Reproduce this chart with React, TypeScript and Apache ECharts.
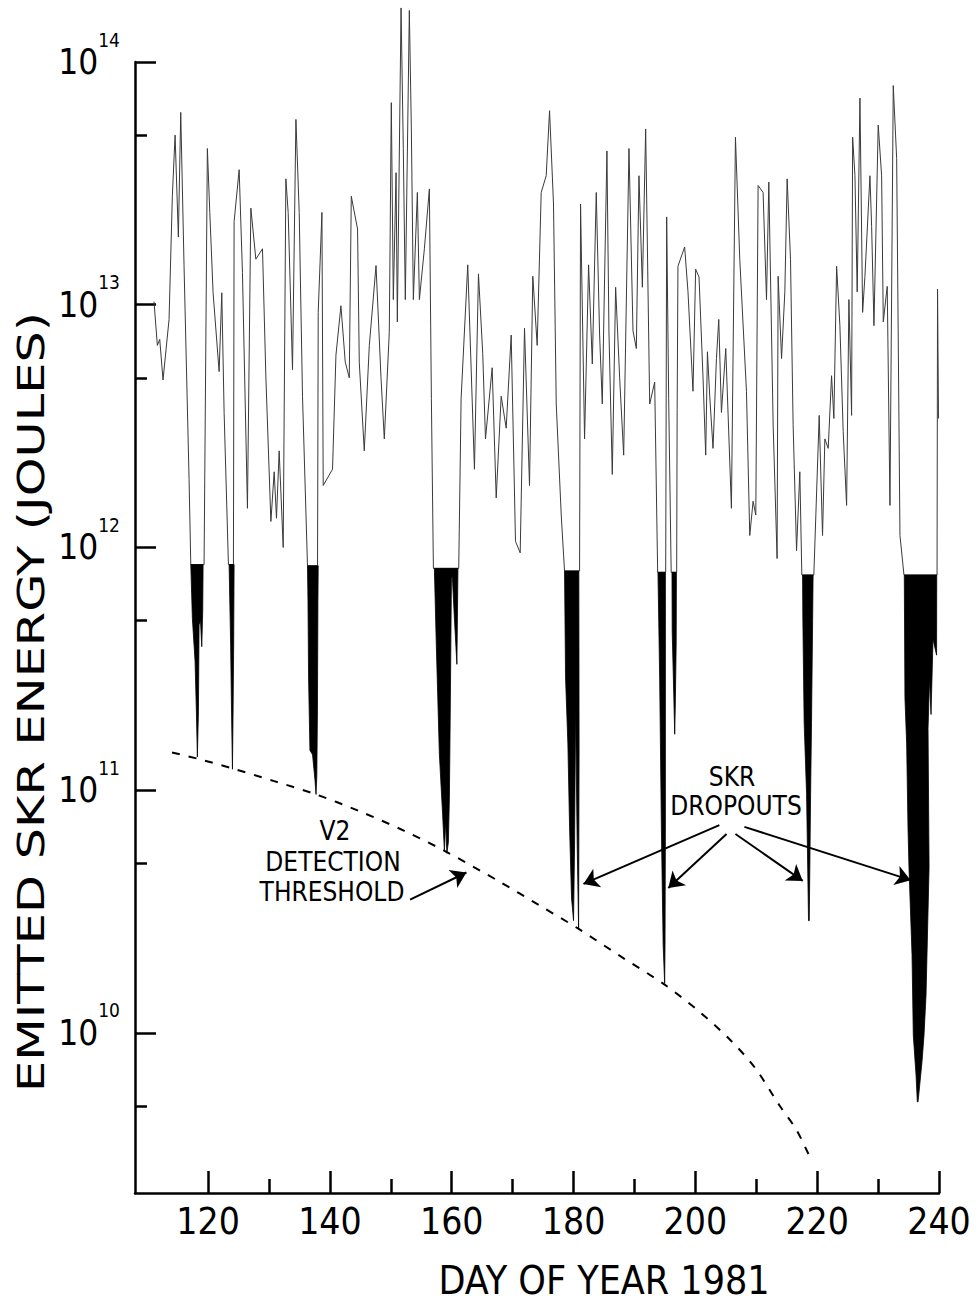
import React, { useEffect, useRef } from "react";
import * as echarts from "echarts";

// ---------- axes ----------
const X_MIN = 108;
const X_MAX = 240;
const Y_MIN_J = 2.19e9;
const Y_MAX_J = 1e14;
const X_MAJOR_TICKS = [120, 140, 160, 180, 200, 220, 240];
const X_MINOR_TICKS = [130, 150, 170, 190, 210, 230];
const Y_MAJOR_TICKS_J = [1e10, 1e11, 1e12, 1e13, 1e14];
const Y_MINOR_TICKS_J = [5e9, 5e10, 5e11, 5e12, 5e13];

// ---------- emitted SKR energy per rotation: [day of year, joules] ----------
const SKR_TRACE: [number, number][] = [
  [111.12, 1.03e13], [111.67, 6.8e12], [112.06, 7.2e12], [112.6, 4.9e12], [113.59, 8.7e12],
  [114.13, 2.8e13], [114.58, 5.0e13], [115.12, 1.9e13], [115.51, 6.2e13], [116.05, 1.45e13],
  [116.88, 1.9e12], [117.16, 8.5e11], [119.18, 8.5e11], [119.34, 8.5e11], [119.88, 4.4e13],
  [120.28, 2.4e13], [120.82, 1.12e13], [121.81, 5.3e12], [122.25, 1.12e13], [122.63, 3.6e12],
  [123.34, 8.5e11], [124.16, 8.5e11], [124.27, 2.2e13], [125.1, 3.6e13], [125.64, 1.36e13],
  [126.46, 1.45e12], [127.02, 2.5e13], [127.84, 1.54e13], [128.93, 1.7e13], [129.49, 5.0e12],
  [130.31, 1.28e12], [130.85, 2.05e12], [131.23, 1.32e12], [131.67, 2.5e12], [132.33, 1.0e12],
  [132.77, 3.3e13], [133.15, 2.4e13], [133.86, 5.4e12], [134.42, 5.8e13], [134.96, 2.4e13],
  [135.5, 4.2e12], [136.32, 8.4e11], [137.97, 8.4e11], [138.08, 9.3e12], [138.69, 2.4e13],
  [138.9, 1.8e12], [140.43, 2.1e12], [140.99, 6.2e12], [141.81, 9.9e12], [142.52, 5.8e12],
  [143.18, 5.0e12], [143.51, 2.8e13], [144.54, 2.05e13], [144.82, 5.8e12], [145.64, 2.5e12],
  [146.47, 6.8e12], [147.57, 1.45e13], [148.39, 5.0e12], [148.93, 2.8e12], [149.75, 7.7e12],
  [150.08, 6.8e13], [150.41, 1.05e13], [150.86, 3.5e13], [151.07, 8.5e12], [151.68, 1.67e14],
  [152.05, 4.4e13], [152.38, 1.05e13], [153.04, 1.63e14], [153.37, 5.3e13], [153.7, 1.05e13],
  [154.36, 2.9e13], [154.69, 1.05e13], [155.51, 1.7e13], [156.33, 3.0e13], [156.66, 4.1e12],
  [156.99, 8.2e11], [161.15, 8.2e11], [161.54, 4.1e12], [162.63, 1.46e13], [163.73, 2.1e12],
  [164.39, 1.34e13], [165.09, 6.3e12], [165.54, 2.8e12], [166.64, 5.5e12], [167.3, 1.6e12],
  [168.12, 4.2e12], [168.94, 3.1e12], [169.76, 7.5e12], [170.47, 1.06e12], [171.24, 9.5e11],
  [171.95, 8.0e12], [172.77, 1.8e12], [173.31, 1.31e13], [174.03, 6.8e12], [174.69, 2.9e13],
  [175.51, 3.4e13], [176.06, 6.3e13], [176.71, 2.6e13], [177.16, 3.9e12], [177.98, 1.36e12],
  [178.52, 8.0e11], [180.99, 8.0e11], [181.15, 2.6e13], [181.81, 2.8e12], [182.47, 1.46e13],
  [183.08, 5.7e12], [183.73, 2.9e13], [184.28, 7.5e12], [184.72, 3.9e12], [185.48, 4.3e13],
  [185.81, 7.8e12], [186.36, 2.0e12], [186.91, 1.18e13], [187.57, 5.0e12], [188.23, 2.4e12],
  [189.1, 4.4e13], [189.76, 7.8e12], [190.31, 6.6e12], [190.74, 3.4e13], [191.3, 1.18e13],
  [191.84, 5.3e13], [192.5, 3.9e12], [193.32, 4.8e12], [193.81, 7.9e11], [195.13, 7.9e11],
  [195.29, 2.3e13], [195.62, 4.1e12], [196.03, 7.9e11], [196.93, 7.9e11], [197.01, 3.7e12],
  [197.14, 1.44e13], [198.24, 1.73e13], [198.79, 1.13e13], [199.61, 4.4e12], [200.05, 1.4e13],
  [200.6, 1.3e13], [201.26, 5.0e12], [201.7, 2.4e12], [201.98, 6.4e12], [202.36, 4.2e12],
  [202.9, 2.56e12], [203.46, 6.0e12], [203.84, 8.7e12], [204.28, 3.6e12], [204.99, 6.6e12],
  [205.92, 1.45e12], [206.58, 4.9e13], [207.29, 1.54e13], [208.39, 4.4e12], [208.93, 1.12e12],
  [209.48, 1.55e12], [209.92, 1.36e12], [210.3, 3.1e13], [211.12, 2.9e13], [211.68, 1.05e13],
  [212.06, 3.2e13], [212.77, 3.2e12], [213.42, 9.0e11], [213.59, 1.31e13], [214.15, 6.0e12],
  [214.69, 1.13e13], [215.07, 3.3e13], [215.62, 1.54e13], [216.05, 3.2e12], [216.61, 9.7e11],
  [217.15, 2.05e12], [217.48, 7.7e11], [219.45, 7.7e11], [220.33, 3.5e12], [220.88, 1.12e12],
  [221.26, 2.8e12], [221.81, 2.56e12], [222.36, 5.1e12], [222.74, 3.4e12], [223.19, 1.44e13],
  [223.73, 8.2e12], [224.27, 3.0e12], [224.83, 1.49e12], [225.21, 1.05e13], [225.65, 3.5e12],
  [225.82, 4.9e13], [226.2, 3.4e13], [226.57, 1.13e13], [227.02, 7.1e13], [227.46, 9.3e12],
  [227.84, 1.31e13], [228.66, 3.4e13], [228.94, 2.1e13], [229.32, 8.2e12], [230.02, 5.5e13],
  [230.58, 3.4e13], [230.85, 8.5e12], [231.5, 1.19e13], [231.95, 1.49e12], [232.49, 8.0e13],
  [233.05, 4.0e13], [233.59, 1.12e12], [234.25, 7.7e11], [239.68, 7.7e11], [239.76, 1.16e13],
  [239.92, 3.4e12],
];

// ---------- SKR dropouts (filled outlines): [day, joules] ----------
const DROPOUT_118: [number, number][] = [
  [117.16, 8.5e11], [119.18, 8.5e11], [119.12, 5.5e11], [118.96, 3.9e11], [118.75, 5.0e11],
  [118.52, 4.8e11], [118.41, 2.1e11], [118.24, 1.37e11], [118.08, 2.1e11], [117.86, 3.4e11],
  [117.42, 5.1e11],
];
const DROPOUT_124: [number, number][] = [
  [123.45, 8.5e11], [124.27, 8.5e11], [124.2, 4.0e11], [124.1, 2.1e11], [124.0, 1.22e11],
  [123.85, 2.1e11], [123.7, 4.0e11],
];
const DROPOUT_137: [number, number][] = [
  [136.32, 8.4e11], [138.08, 8.4e11], [138.03, 6.0e11], [137.95, 2.1e11], [137.85, 1.15e11],
  [137.72, 9.6e10], [137.55, 1.1e11], [137.15, 1.4e11], [136.72, 1.46e11], [136.5, 2.9e11],
  [136.4, 6.0e11],
];
const DROPOUT_159: [number, number][] = [
  [157.15, 8.2e11], [161.02, 8.2e11], [160.85, 3.3e11], [160.44, 5.1e11], [160.11, 7.5e11],
  [159.95, 7.5e11], [159.78, 2.4e11], [159.62, 9.4e10], [159.45, 6.1e10], [159.2, 5.5e10],
  [159.0, 7.5e10], [158.8, 5.6e10], [158.5, 8.0e10], [158.2, 1.1e11], [157.97, 1.41e11],
  [157.48, 3.86e11],
];
const DROPOUT_180: [number, number][] = [
  [178.52, 8.0e11], [180.87, 8.0e11], [180.91, 1.5e11], [180.83, 2.7e10], [180.6, 6.0e10],
  [180.33, 2.2e11], [180.17, 6.0e10], [180.0, 2.9e10], [179.67, 3.6e10], [179.35, 7.0e10],
  [179.07, 1.55e11], [178.69, 2.9e11],
];
const DROPOUT_195: [number, number][] = [
  [193.86, 7.9e11], [195.08, 7.9e11], [195.08, 7.0e10], [195.02, 2.3e10], [194.96, 1.6e10],
  [194.71, 2.3e10], [194.42, 7.0e10], [194.14, 2.9e11],
];
const DROPOUT_197: [number, number][] = [
  [196.16, 7.9e11], [196.89, 7.9e11], [196.85, 4.0e11], [196.7, 2.2e11], [196.61, 1.7e11],
  [196.45, 2.5e11], [196.2, 4.5e11],
];
const DROPOUT_218: [number, number][] = [
  [217.6, 7.7e11], [219.33, 7.7e11], [219.25, 5.0e11], [219.07, 1.9e11], [218.92, 9.6e10],
  [218.7, 2.9e10], [218.58, 2.9e10], [218.26, 9.6e10], [217.86, 1.9e11], [217.65, 5.0e11],
];
const DROPOUT_236: [number, number][] = [
  [234.3, 7.7e11], [239.63, 7.7e11], [239.6, 3.6e11], [239.02, 4.2e11], [238.69, 2.05e11],
  [238.45, 2.9e11], [238.2, 1.8e11], [238.37, 4.8e10], [237.87, 1.43e10], [237.54, 9.8e9],
  [237.21, 7.6e9], [236.56, 5.2e9], [236.44, 5.2e9], [236.23, 6.7e9], [235.78, 9.8e9],
  [235.57, 2.1e10], [235.07, 4.8e10], [234.91, 7.0e10], [234.69, 1.55e11], [234.41, 2.4e11],
];
const DROPOUTS = [
  DROPOUT_118, DROPOUT_124, DROPOUT_137, DROPOUT_159, DROPOUT_180,
  DROPOUT_195, DROPOUT_197, DROPOUT_218, DROPOUT_236,
];

// ---------- V2 detection threshold ----------
const THRESHOLD_DAY = [
  114.08, 118.19, 123.95, 130.85, 137.75, 144.82, 152.22, 158.96, 167.84, 174.41,
  180.66, 187.56, 194.96, 200.72, 205.65, 209.76, 213.87, 216.66, 219.13,
];
const THRESHOLD_J = [
  1.43e11, 1.35e11, 1.23e11, 1.09e11, 9.6e10, 8.2e10, 6.8e10, 5.6e10, 4.2e10, 3.35e10,
  2.7e10, 2.08e10, 1.58e10, 1.22e10, 9.4e9, 7.2e9, 5.0e9, 3.96e9, 2.95e9,
];

// ---------- annotation arrows: from [day, J] to [day, J] ----------
const ARROWS: [[number, number], [number, number]][] = [
  [[153.16, 3.54e10], [162.41, 4.58e10]],
  [[203.94, 7.18e10], [181.63, 4.11e10]],
  [[205.12, 6.6e10], [195.56, 3.95e10]],
  [[206.58, 6.6e10], [217.63, 4.23e10]],
  [[208.05, 7.06e10], [235.35, 4.26e10]],
];

const FONT =
  "'Liberation Sans Narrow', 'Arial Narrow', 'DejaVu Sans Condensed', 'Liberation Sans', sans-serif";
const lg = (v: number) => Math.log10(v);

export default function App() {
  const ref = useRef<HTMLDivElement>(null);

  useEffect(() => {
    if (!ref.current) return;
    const chart = echarts.init(ref.current, null, { renderer: "svg" });

    const axisLineStyle = { color: "#000", width: 2.5 };
    const yMin = lg(Y_MIN_J);
    const yMax = lg(Y_MAX_J);
    const annot = (text: string, x: number, y: number) => ({
      type: "text",
      x,
      y,
      style: { text, fontSize: 26, fontFamily: FONT, fill: "#000", align: "center", verticalAlign: "middle" },
    });

    const option: any = {
      animation: false,
      backgroundColor: "#fff",
      grid: { left: 135, right: 40, top: 62, bottom: 107, containLabel: false },
      xAxis: [
        {
          type: "value",
          min: X_MIN,
          max: X_MAX,
          position: "bottom",
          axisLine: { show: true, onZero: false, lineStyle: axisLineStyle },
          axisTick: { show: true, inside: true, length: 22, customValues: X_MAJOR_TICKS, lineStyle: axisLineStyle },
          axisLabel: {
            show: true,
            customValues: X_MAJOR_TICKS,
            fontSize: 37,
            fontFamily: FONT,
            color: "#000",
            margin: 10,
          },
          splitLine: { show: false },
          name: "DAY OF YEAR 1981",
          nameLocation: "middle",
          nameGap: 68,
          nameTextStyle: { fontSize: 39, fontFamily: FONT, color: "#000", padding: [0, 0, 0, 134] },
        },
        {
          type: "value",
          min: X_MIN,
          max: X_MAX,
          position: "bottom",
          axisLine: { show: false, onZero: false },
          axisTick: { show: true, inside: true, length: 14, customValues: X_MINOR_TICKS, lineStyle: axisLineStyle },
          axisLabel: { show: false, customValues: X_MINOR_TICKS },
          splitLine: { show: false },
        },
      ],
      yAxis: [
        {
          type: "value",
          min: yMin,
          max: yMax,
          position: "left",
          axisLine: { show: true, onZero: false, lineStyle: axisLineStyle },
          axisTick: { show: true, inside: true, length: 21, customValues: Y_MAJOR_TICKS_J.map(lg), lineStyle: axisLineStyle },
          axisLabel: {
            show: true,
            customValues: Y_MAJOR_TICKS_J.map(lg),
            margin: 15,
            formatter: (v: number) => `{b|10}{s|${Math.round(v)}}`,
            rich: {
              b: { fontSize: 35, fontFamily: FONT, color: "#000", lineHeight: 64 },
              s: { fontSize: 19, fontFamily: FONT, color: "#000", lineHeight: 18, verticalAlign: "top" },
            },
          },
          splitLine: { show: false },
        },
        {
          type: "value",
          min: yMin,
          max: yMax,
          position: "left",
          axisLine: { show: false, onZero: false },
          axisTick: { show: true, inside: true, length: 12, customValues: Y_MINOR_TICKS_J.map(lg), lineStyle: axisLineStyle },
          axisLabel: { show: false, customValues: Y_MINOR_TICKS_J.map(lg) },
          splitLine: { show: false },
        },
      ],
      series: [
        {
          type: "line",
          name: "SKR energy",
          xAxisIndex: 0,
          yAxisIndex: 0,
          data: SKR_TRACE.map(([d, e]) => [d, lg(e)]),
          symbol: "none",
          showSymbol: false,
          clip: false,
          lineStyle: { color: "#3a3a3a", width: 1 },
          z: 3,
          silent: true,
        },
        {
          type: "custom",
          name: "dropouts",
          xAxisIndex: 0,
          yAxisIndex: 0,
          clip: false,
          silent: true,
          z: 4,
          encode: { x: 0, y: 1 },
          data: DROPOUTS.map((poly, i) => [poly[0][0], lg(poly[0][1]), i]),
          renderItem: (_params: any, api: any) => {
            const poly = DROPOUTS[api.value(2)];
            const points = poly.map(([d, e]) => api.coord([d, lg(e)]));
            return {
              type: "polygon",
              shape: { points },
              style: { fill: "#000", stroke: "#000", lineWidth: 0.8 },
            };
          },
        },
        {
          type: "line",
          name: "V2 detection threshold",
          xAxisIndex: 0,
          yAxisIndex: 0,
          data: THRESHOLD_DAY.map((d, i) => [d, lg(THRESHOLD_J[i])]),
          symbol: "none",
          showSymbol: false,
          smooth: 0.3,
          clip: false,
          silent: true,
          lineStyle: { color: "#000", width: 2, type: [8, 9] },
          z: 2,
          markLine: {
            silent: true,
            animation: false,
            symbol: ["none", "arrow"],
            symbolSize: 15,
            label: { show: false },
            lineStyle: { color: "#000", width: 2, type: "solid" },
            emphasis: { disabled: true },
            data: ARROWS.map(([a, b]) => [
              { coord: [a[0], lg(a[1])] },
              { coord: [b[0], lg(b[1])] },
            ]),
          },
        },
      ],
      graphic: [
        {
          type: "text",
          x: 31,
          y: 702,
          rotation: Math.PI / 2,
          scaleX: 1.3,
          style: {
            text: "EMITTED SKR ENERGY (JOULES)",
            fontSize: 38,
            fontFamily: "'DejaVu Sans', sans-serif",
            fill: "#000",
            align: "center",
            verticalAlign: "middle",
          },
        },
        annot("V2", 335, 831),
        annot("DETECTION", 333, 862),
        annot("THRESHOLD", 332, 892),
        annot("SKR", 732, 777),
        annot("DROPOUTS", 736, 806),
      ],
    };

    chart.setOption(option);
    return () => chart.dispose();
  }, []);

  return (
    <div
      ref={ref}
      style={{ position: "absolute", left: 0, top: 0, width: 979, height: 1305, background: "#fff" }}
    />
  );
}
